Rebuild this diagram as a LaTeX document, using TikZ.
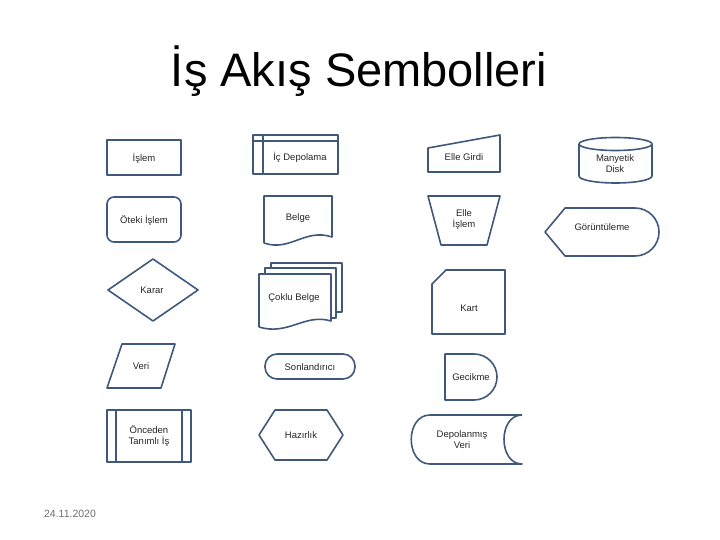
\documentclass[tikz,border=0pt]{standalone}
\usepackage{fontspec}
\setmainfont{Liberation Sans}
\usepackage{xcolor}
\usepackage{tikz}
\definecolor{symblue}{RGB}{64,88,124}
\definecolor{dategray}{RGB}{110,110,110}

\begin{document}
\begin{tikzpicture}[x=1pt, y=-1pt,
    sym/.style={draw=symblue, line width=1.6pt, line join=round},
    lbl/.style={font=\fontsize{9.5}{11}\selectfont, text=black!85, align=center, inner sep=0pt}]
    \useasboundingbox (0,0) rectangle (720,540);

    % Title
    \node (title) at (359,71) {\fontsize{47}{52}\selectfont İş Akış Sembolleri};

    % Column 1
    \draw[sym] (107,140) rectangle (181,175);
    \node[lbl] (islem) at (144,158) {İşlem};
    \draw[sym, rounded corners=7pt] (107,197) rectangle (181,242);
    \node[lbl] (oteki) at (144,220) {Öteki İşlem};
    \draw[sym] (108,290) -- (153,259) -- (198,290) -- (153,321) -- cycle;
    \node[lbl] (karar) at (152,290) {Karar};
    \draw[sym] (122,344) -- (175,344) -- (161,388) -- (107,388) -- cycle;
    \node[lbl] (veri) at (141,366) {Veri};
    \draw[sym] (107,410) rectangle (191,462);
    \draw[sym] (116,410) -- (116,462);
    \draw[sym] (182,410) -- (182,462);
    \node[lbl] (onceden) at (149,436) {Önceden\\Tanımlı İş};

    % Column 2
    \draw[sym] (253,135) rectangle (338,174);
    \draw[sym] (253,141) -- (338,141);
    \draw[sym] (263,135) -- (263,174);
    \node[lbl] (icdepo) at (300,157) {İç Depolama};
    \draw[sym] (264,243) -- (264,196) -- (332,196) -- (332,237)
        .. controls (305,228) and (290,252) .. (264,243);
    \node[lbl] (belge) at (298,218) {Belge};
    \filldraw[sym, fill=white] (271,263) rectangle (342,312);
    \filldraw[sym, fill=white] (265,268) rectangle (336,318);
    \filldraw[sym, fill=white] (259,327) -- (259,274) -- (331,274) -- (331,321)
        .. controls (305,313) and (288,336) .. (259,327);
    \node[lbl] (coklu) at (294,298) {Çoklu Belge};
    \draw[sym, rounded corners=12pt] (265,354) rectangle (355,379);
    \node[lbl] (sonland) at (310,367) {Sonlandırıcı};
    \draw[sym] (259,435) -- (275,410) -- (327,410) -- (343,435) -- (327,460) -- (275,460) -- cycle;
    \node[lbl] (hazirlik) at (301,435) {Hazırlık};

    % Column 3
    \draw[sym] (428,148) -- (500,135) -- (500,172) -- (428,172) -- cycle;
    \node[lbl] (ellegirdi) at (464,157) {Elle Girdi};
    \draw[sym] (428,196) -- (500,196) -- (487,245) -- (441,245) -- cycle;
    \node[lbl] (elleislem) at (464,220) {Elle\\İşlem};
    \draw[sym] (446,270) -- (505,270) -- (505,334) -- (432,334) -- (432,284) -- cycle;
    \node[lbl] (kart) at (469,308) {Kart};
    \draw[sym] (445,354) -- (474,354) arc[start angle=-90, end angle=90, radius=23] -- (445,400) -- cycle;
    \node[lbl] (gecikme) at (471,377) {Gecikme};
    \draw[sym] (522,415) -- (430,415) .. controls (405,415) and (405,464) .. (430,464) -- (522,464)
        .. controls (498,464) and (498,415) .. (522,415);
    \node[lbl] (depoveri) at (462,440) {Depolanmış\\Veri};

    % Column 4
    \draw[sym] (579,144) -- (579,176) arc[start angle=180, end angle=0, x radius=36.5, y radius=7] -- (652,144);
    \draw[sym] (615.5,144) ellipse [x radius=36.5, y radius=6.5];
    \node[lbl] (disk) at (615,164) {Manyetik\\Disk};
    \draw[sym] (545,232) -- (565,208) -- (635,208) arc[start angle=-90, end angle=90, radius=24] -- (565,256) -- cycle;
    \node[lbl] (goruntu) at (602,227) {Görüntüleme};

    % Date
    \node[text=dategray, font=\fontsize{10.5}{12}\selectfont] (tarih) at (70,514) {24.11.2020};
\end{tikzpicture}
\end{document}
